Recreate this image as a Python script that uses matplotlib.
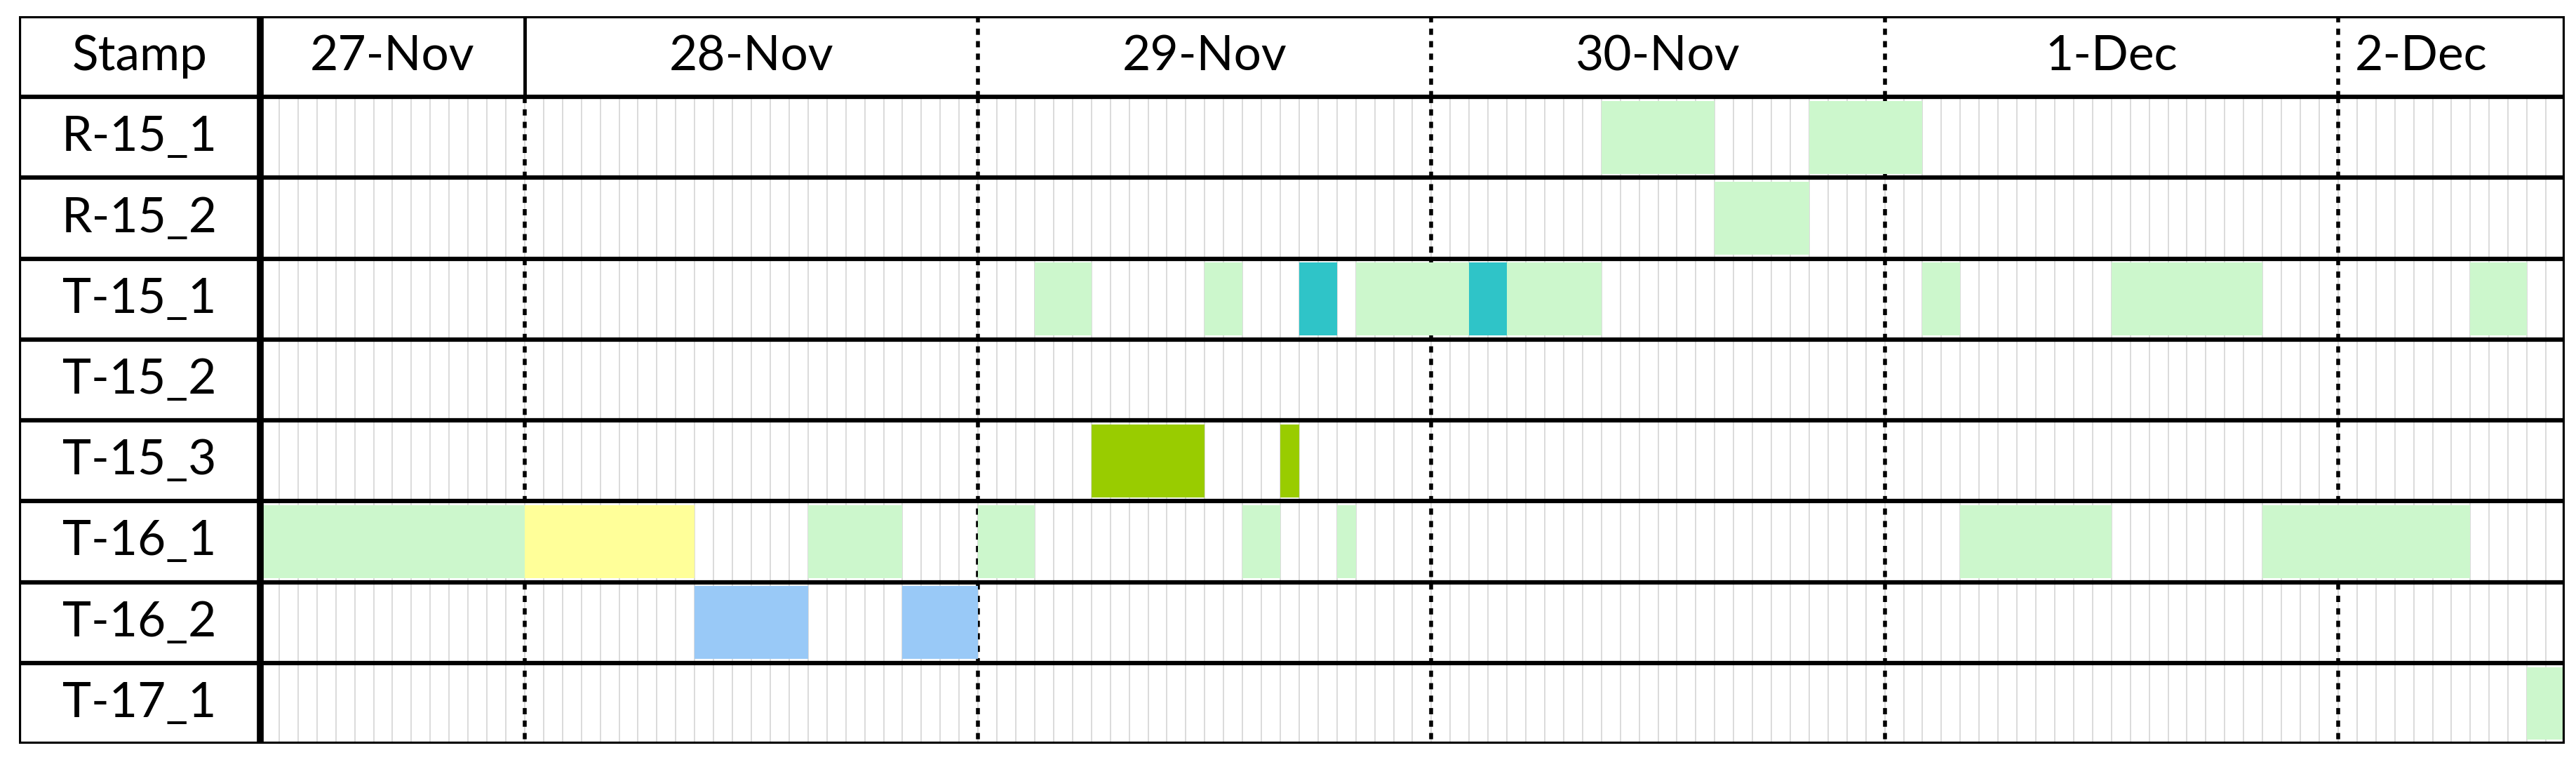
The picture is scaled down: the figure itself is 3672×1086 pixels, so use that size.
import matplotlib
matplotlib.use("Agg")
import matplotlib.pyplot as plt

plt.rcParams['font.family'] = ['Lato', 'DejaVu Sans']

# hours counted from 27-Nov 10:00
stamps = ["R-15_1", "R-15_2", "T-15_1", "T-15_2", "T-15_3", "T-16_1", "T-16_2", "T-17_1"]
day_labels = ["27-Nov", "28-Nov", "29-Nov", "30-Nov", "1-Dec", "2-Dec"]
day_starts = [0, 14, 38, 62, 86, 110]
total_hours = 122

bar_rows = (["R-15_1"] * 2 + ["R-15_2"] + ["T-15_1"] * 9 + ["T-15_3"] * 2
            + ["T-16_1"] * 8 + ["T-16_2"] * 2 + ["T-17_1"])
bar_starts = [71, 82, 77,
              41, 50, 55, 58, 64, 66, 88, 98, 117,
              44, 54,
              0, 14, 29, 38, 52, 57, 90, 106,
              23, 34, 120]
bar_ends   = [77, 88, 82,
              44, 52, 57, 64, 66, 71, 90, 106, 120,
              50, 55,
              14, 23, 34, 41, 54, 58, 98, 117,
              29, 38, 122]
bar_kinds  = ["a", "a", "a",
              "a", "a", "t", "a", "t", "a", "a", "a", "a",
              "g", "g",
              "a", "y", "a", "a", "a", "a", "a", "a",
              "b", "b", "a"]
colors = {"a": "#ccf7cc", "t": "#2fc4c8", "g": "#99cc00", "y": "#ffff99", "b": "#99c9f7"}

fig = plt.figure(figsize=(36.72, 10.86), dpi=100)
ax = fig.add_axes([27/3672, 26/1086, 3629/3672, 1037/1086])
stamp_w = 344 / 26.93
ax.set_xlim(-stamp_w, total_hours)
nrows = len(stamps) + 1
ax.set_ylim(nrows, 0)
ax.axis("off")

for h in range(1, total_hours):
    ax.plot([h, h], [1, nrows], color="#d4d4d4", lw=1.2, zorder=1)

for i, d in enumerate(day_starts[1:]):
    ax.plot([d, d], [1, nrows], color="black", lw=4, ls=(0, (1.6, 1.6)), zorder=2)
    if i == 0:
        ax.plot([d, d], [0, 1], color="black", lw=3.5, zorder=2)
    else:
        ax.plot([d, d], [0, 1], color="black", lw=4, ls=(0, (1.6, 1.6)), zorder=2)

for r, s, e, k in zip(bar_rows, bar_starts, bar_ends, bar_kinds):
    y = stamps.index(r) + 1.5
    ax.barh(y, e - s, left=s, height=0.9, color=colors[k], zorder=3, linewidth=0)

for j in range(nrows + 1):
    ax.plot([-stamp_w, total_hours], [j, j], color="black", lw=4.5, zorder=5)
ax.plot([-stamp_w, -stamp_w], [0, nrows], color="black", lw=4.5, zorder=5)
ax.plot([0, 0], [0, nrows], color="black", lw=7, zorder=5)
ax.plot([total_hours, total_hours], [0, nrows], color="black", lw=4.5, zorder=5)

fs = 50
ax.text(-stamp_w / 2, 0.5, "Stamp", ha="center", va="center", fontsize=fs, zorder=6)
for i, s in enumerate(stamps):
    ax.text(-stamp_w / 2, i + 1.5, s, ha="center", va="center", fontsize=fs, zorder=6)
ends = day_starts[1:] + [total_hours]
for lab, s, e in zip(day_labels, day_starts, ends):
    if lab == "2-Dec":
        ax.text(s + 0.9, 0.5, lab, ha="left", va="center", fontsize=fs, zorder=6)
    else:
        ax.text((s + e) / 2, 0.5, lab, ha="center", va="center", fontsize=fs, zorder=6)

fig.savefig("out.png", dpi=100, facecolor="white")
